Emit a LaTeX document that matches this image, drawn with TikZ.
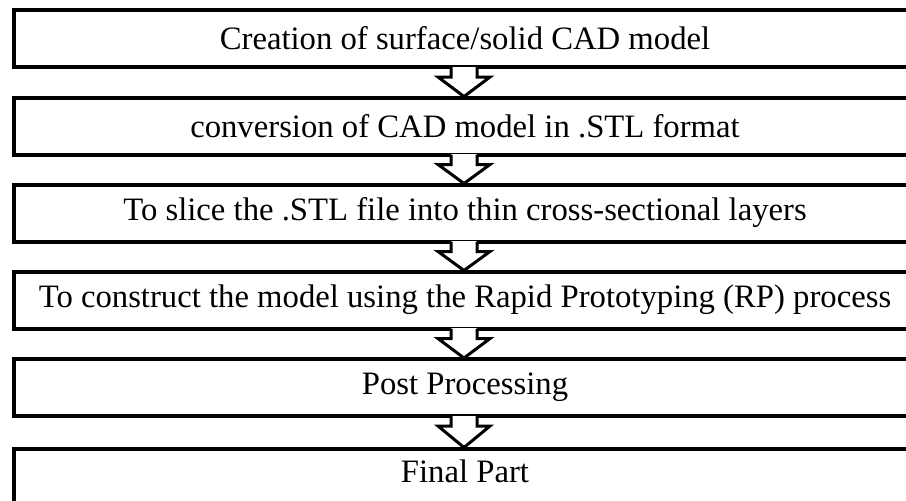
\documentclass[tikz,border=0pt]{standalone}
\usepackage{fontspec}
\setmainfont{Liberation Serif}
\begin{document}
\begin{tikzpicture}[x=1pt,y=-1pt,
  stepbox/.style={draw=black,line width=4pt,minimum width=902pt,minimum height=57pt,inner sep=0pt},
  steptext/.style={font=\fontsize{32.7}{38}\selectfont,inner sep=0pt,anchor=center},
  blockarrow/.style={draw=black,line width=3pt,line join=miter}]
\useasboundingbox (0,0) rectangle (906,501);
\begin{scope}
\clip (0,0) rectangle (906,501);
\node[stepbox] (b1) at (465,38.5) {};
\node[stepbox] (b2) at (465,126) {};
\node[stepbox] (b3) at (465,213) {};
\node[stepbox] (b4) at (465,300) {};
\node[stepbox] (b5) at (465,387.5) {};
\node[stepbox] (b6) at (465,477) {};
\node[steptext] (t1) at (b1.center) {Creation of surface/solid CAD model};
\node[steptext] (t2) at (b2.center) {conversion of CAD model in .STL format};
\node[steptext] (t3) at (b3.center) {To slice the .STL file into thin cross-sectional layers};
\node[steptext] (t4) at (b4.center) {To construct the model using the Rapid Prototyping (RP) process};
\node[steptext] (t5) at (b5.center) {Post Processing};
\node[steptext] (t6) at (465,471) {Final Part};
\foreach \a/\b in {b1/b2,b2/b3,b3/b4,b4/b5,b5/b6}{
  \fill[white] ([yshift=2.5pt]\a.south -| 451,0) rectangle ([yshift=-2.5pt]\a.south -| 477,0);
  \fill[white] ([yshift=2pt]\a.south -| 451,0) -- ([yshift=-8pt]\a.south -| 451,0) -- ([yshift=-8pt]\a.south -| 438,0)
     -- ([yshift=-1pt]\b.north -| 464,0) -- ([yshift=-8pt]\a.south -| 490,0) -- ([yshift=-8pt]\a.south -| 477,0) -- ([yshift=2pt]\a.south -| 477,0) -- cycle;
  \draw[blockarrow] ([yshift=2pt]\a.south -| 451,0) -- ([yshift=-8pt]\a.south -| 451,0) -- ([yshift=-8pt]\a.south -| 438,0)
     -- ([yshift=-1pt]\b.north -| 464,0) -- ([yshift=-8pt]\a.south -| 490,0) -- ([yshift=-8pt]\a.south -| 477,0) -- ([yshift=2pt]\a.south -| 477,0);
}
\end{scope}
\end{tikzpicture}
\end{document}
